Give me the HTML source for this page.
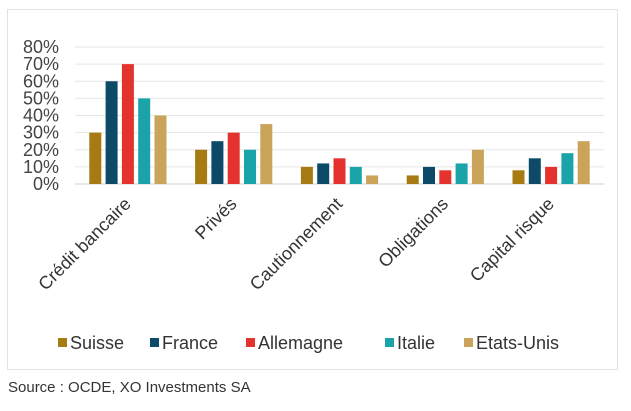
<!DOCTYPE html>
<html><head><meta charset="utf-8"><style>
body{margin:0;background:#fff;width:631px;height:406px;overflow:hidden;font-family:"Liberation Sans",sans-serif}
</style></head><body>
<svg width="631" height="406">
<rect x="7.5" y="9.5" width="610" height="360" fill="#fff" stroke="#e2e2e2"/>
<g id="grid"></g><g id="bars"></g><g id="xl"></g><g id="legend"></g>
<text x="8" y="392" font-size="15" fill="#333">Source : OCDE, XO Investments SA</text>
</svg>
<script>
const categories=["Crédit bancaire","Privés","Cautionnement","Obligations","Capital risque"];
const seriesNames=["Suisse","France","Allemagne","Italie","Etats-Unis"];
const suisse=[30,20,10,5,8];
const france=[60,25,12,10,15];
const allemagne=[70,30,15,8,10];
const italie=[50,20,10,12,18];
const etatsUnis=[40,35,5,20,25];
const ticks=[0,10,20,30,40,50,60,70,80];
const series=[suisse,france,allemagne,italie,etatsUnis];
const colors=["#a87b12","#0c4a68","#e4332f","#1aa3a8","#c9a45a"];
const NS="http://www.w3.org/2000/svg";
const x0=75,x1=604,y0=184,y80=47;
const y=v=>y0-(v/80)*(y0-y80);
const cw=(x1-x0)/categories.length;
const cx=i=>x0+cw*(i+0.5);
function mk(t,a,p){const e=document.createElementNS(NS,t);for(const k in a)e.setAttribute(k,a[k]);p.appendChild(e);return e;}
const g=document.getElementById('grid');
ticks.forEach(t=>{
 const l=mk('line',{x1:x0,x2:x1,y1:y(t),y2:y(t),stroke:t===0?'#d0d0d0':'#e6e6e6','stroke-width':1},g);
 
 
 const tx=mk('text',{x:59,y:y(t)+6,'text-anchor':'end','font-size':18,fill:'#444'},g);
 tx.textContent=t+'%';
 
 
});
const b=document.getElementById('bars');
const pitch=16.3,bw=12;
series.forEach((s,j)=>s.forEach((v,i)=>{
 const r=mk('rect',{x:cx(i)+(j-2)*pitch-bw/2,y:y(v),width:bw,height:y0-y(v),fill:colors[j]},b);
 
 
}));
const xl=document.getElementById('xl');
categories.forEach((c,i)=>{
 const t=mk('text',{x:cx(i)+4,y:205,'text-anchor':'end','font-size':18,fill:'#333',transform:`rotate(-45 ${cx(i)+4} 205)`},xl);
 t.textContent=c;
 
 
});
const lg=document.getElementById('legend');
const lx=[58,150,246,385,464];
seriesNames.forEach((n,j)=>{
 const r=mk('rect',{x:lx[j],y:338,width:9,height:9,fill:colors[j]},lg);
 
 
 const t=mk('text',{x:lx[j]+12,y:349,'font-size':18,fill:'#333'},lg);
 t.textContent=n;
 
 
});
</script>
</body></html>
